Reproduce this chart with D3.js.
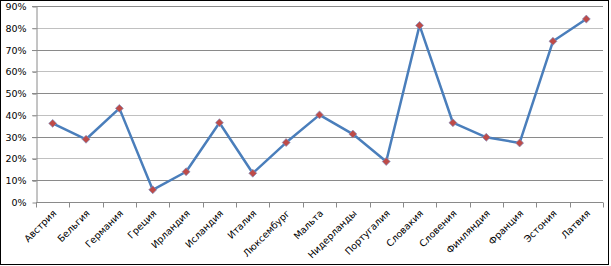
<!DOCTYPE html>
<html>
<head>
<meta charset="utf-8">
<script src="https://cdn.jsdelivr.net/npm/d3@7"></script>
<style>
  body { margin: 0; background: #fff; }
  svg text { font-family: "DejaVu Sans", Verdana, sans-serif; }
</style>
</head>
<body>
<div id="viz"></div>
<script>
const countries = ['Австрия', 'Бельгия', 'Германия', 'Греция', 'Ирландия', 'Исландия', 'Италия',
  'Люксембург', 'Мальта', 'Нидерланды', 'Португалия', 'Словакия', 'Словения', 'Финляндия',
  'Франция', 'Эстония', 'Латвия'];
const shares = [36.1, 28.8, 43.0, 5.6, 13.9, 36.4, 13.2, 27.3, 40.0, 31.2, 18.6, 81.1, 36.4, 29.7, 27.1, 73.8, 84.0];
const yTicks = [0, 10, 20, 30, 40, 50, 60, 70, 80, 90];

const width = 611, height = 266;
const margin = { top: 6, right: 8, bottom: 64, left: 36 };

const svg = d3.select('#viz').append('svg')
  .attr('width', width)
  .attr('height', height);

// outer frame
svg.append('rect')
  .attr('x', 0.5).attr('y', 0.5)
  .attr('width', 608).attr('height', 264)
  .style('fill', 'none')
  .style('stroke', '#000')
  .style('stroke-width', 1);

const xScale = d3.scaleBand()
  .domain(countries)
  .range([margin.left, 603]);

const yScale = d3.scaleLinear()
  .domain([0, 90])
  .range([202, margin.top]);

// gridlines, alternate shades like the original
svg.append('g')
  .selectAll('line')
  .data(yTicks.filter(d => d > 0))
  .enter().append('line')
  .attr('x1', margin.left - 4)
  .attr('x2', 603)
  .attr('y1', d => Math.round(yScale(d)) + 0.5)
  .attr('y2', d => Math.round(yScale(d)) + 0.5)
  .style('stroke', d => (d / 10) % 2 === 1 ? '#8a8a8a' : '#c0c0c0')
  .style('stroke-width', 1);

// y axis
const yAxis = svg.append('g')
  .attr('transform', `translate(${margin.left + 0.5},0.5)`)
  .call(d3.axisLeft(yScale).tickValues(yTicks).tickSize(4).tickSizeOuter(0).tickFormat(d => d + '%'));
yAxis.select('.domain').style('stroke', '#8a8a8a');
yAxis.selectAll('.tick line').style('stroke', '#8a8a8a');
yAxis.selectAll('text')
  .attr('x', -10)
  .style('font-size', '9.5px')
  .style('font-family', '"DejaVu Sans", Verdana, sans-serif')
  .style('fill', '#000');

// x axis
const xAxis = svg.append('g')
  .attr('transform', `translate(0,${Math.round(yScale(0)) + 0.5})`);
xAxis.append('line')
  .attr('x1', margin.left).attr('x2', 603)
  .style('stroke', '#8a8a8a');
xAxis.selectAll('.tk')
  .data(countries.concat(['end']))
  .enter().append('line')
  .attr('x1', (d, i) => Math.round(margin.left + i * xScale.step()) + 0.5)
  .attr('x2', (d, i) => Math.round(margin.left + i * xScale.step()) + 0.5)
  .attr('y1', 0).attr('y2', 5)
  .style('stroke', '#8a8a8a');
xAxis.selectAll('text')
  .data(countries)
  .enter().append('text')
  .attr('transform', d => `translate(${xScale(d) + xScale.bandwidth() / 2 + 2},${9}) rotate(-45)`)
  .attr('text-anchor', 'end')
  .attr('dy', '0.35em')
  .style('font-size', '9.5px')
  .style('fill', '#000')
  .text(d => d);

// line
const line = d3.line()
  .x(d => xScale(d.c) + xScale.bandwidth() / 2)
  .y(d => yScale(d.v));
const pts = countries.map((c, i) => ({ c: c, v: shares[i] }));

svg.append('path')
  .datum(pts)
  .attr('d', line)
  .style('fill', 'none')
  .style('stroke', '#4a7ebb')
  .style('stroke-width', 2.5)
  .style('stroke-linejoin', 'round');

// diamond markers
svg.selectAll('.mark')
  .data(pts)
  .enter().append('path')
  .attr('class', 'mark')
  .attr('d', d3.symbol().type(d3.symbolDiamond2).size(40))
  .attr('transform', d => `translate(${xScale(d.c) + xScale.bandwidth() / 2},${yScale(d.v)})`)
  .style('fill', '#be4b48')
  .style('stroke', '#7f8fbf')
  .style('stroke-width', 0.7);
</script>
</body>
</html>
